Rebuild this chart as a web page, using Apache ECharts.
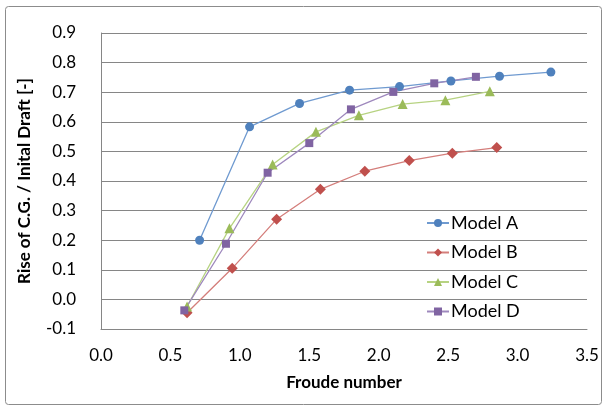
<!DOCTYPE html>
<html>
<head>
<meta charset="utf-8">
<script src="https://cdn.jsdelivr.net/npm/echarts@6/dist/echarts.min.js"></script>
<style>html,body{margin:0;padding:0;background:#fff}#c{width:606px;height:408px}</style>
</head>
<body>
<div id="c"></div>
<script>
const seriesNames = ['Model A', 'Model B', 'Model C', 'Model D'];
const modelA = [[0.71,0.20],[1.07,0.583],[1.43,0.662],[1.79,0.707],[2.15,0.719],[2.52,0.738],[2.87,0.754],[3.24,0.768]];
const modelB = [[0.62,-0.045],[0.945,0.105],[1.265,0.271],[1.58,0.372],[1.90,0.433],[2.22,0.469],[2.53,0.494],[2.85,0.513]];
const modelC = [[0.62,-0.024],[0.925,0.24],[1.236,0.456],[1.548,0.566],[1.857,0.622],[2.172,0.66],[2.48,0.673],[2.80,0.703]];
const modelD = [[0.60,-0.037],[0.90,0.188],[1.20,0.428],[1.50,0.528],[1.80,0.642],[2.105,0.701],[2.40,0.730],[2.70,0.752]];
const xTicks = [0.0, 0.5, 1.0, 1.5, 2.0, 2.5, 3.0, 3.5];
const yTicks = [-0.1, 0.0, 0.1, 0.2, 0.3, 0.4, 0.5, 0.6, 0.7, 0.8, 0.9];
const xTitle = 'Froude number';
const yTitle = 'Rise of C.G. / Inital Draft [-]';

const datasets = [modelA, modelB, modelC, modelD];
const markerColors = ['#4F81BD', '#C0504D', '#9BBB59', '#8064A2'];
const lineColors = ['#6F9AD0', '#D47E7B', '#B7D382', '#9E88BD'];
const symbols = ['circle', 'diamond', 'triangle', 'rect'];
const symbolSizes = [9, 11, 10, 8];

const font = 'Lato, "Open Sans", sans-serif';
const chart = echarts.init(document.getElementById('c'), null, {renderer: 'canvas'});
chart.setOption({
  animation: false,
  backgroundColor: '#fff',
  graphic: [{
    type: 'rect', left: 5, top: 6, z: -1,
    shape: {width: 596, height: 398, r: 3},
    style: {fill: '#fff', stroke: '#8c8c8c', lineWidth: 1}
  }],
  grid: {left: 101, right: 19, top: 33, bottom: 79, containLabel: false},
  xAxis: {
    type: 'value', min: xTicks[0], max: xTicks[xTicks.length - 1], interval: 0.5,
    name: xTitle, nameLocation: 'middle', nameGap: 45,
    nameTextStyle: {fontFamily: font, fontSize: 17, fontWeight: 'bold', color: '#000'},
    axisLine: {show: true, onZero: false, lineStyle: {color: '#868686', width: 1}},
    axisTick: {show: false},
    splitLine: {show: false},
    axisLabel: {margin: 18, fontFamily: font, fontSize: 17, color: '#000', formatter: v => v.toFixed(1)}
  },
  yAxis: {
    type: 'value', min: yTicks[0], max: yTicks[yTicks.length - 1], interval: 0.1,
    name: yTitle, nameLocation: 'middle', nameGap: 68, nameRotate: 90,
    nameTextStyle: {fontFamily: font, fontSize: 17, fontWeight: 'bold', color: '#000'},
    axisLine: {show: true, onZero: false, lineStyle: {color: '#868686', width: 1}},
    axisTick: {show: false},
    splitLine: {show: true, lineStyle: {color: '#868686', width: 1}},
    axisLabel: {margin: 25, fontFamily: font, fontSize: 17, color: '#000', formatter: v => (Math.round(v * 10) / 10).toFixed(1)}
  },
  legend: {
    orient: 'vertical', left: 421, top: 208,
    itemWidth: 22, itemHeight: 10, itemGap: 9.5,
    textStyle: {fontFamily: font, fontSize: 18, color: '#000', lineHeight: 20, padding: [0, 0, 0, -3]},
    data: seriesNames
  },
  series: seriesNames.map((n, i) => ({
    name: n, type: 'line', data: datasets[i],
    symbol: symbols[i], symbolSize: symbolSizes[i], showSymbol: true,
    lineStyle: {color: lineColors[i], width: 1.3},
    itemStyle: {color: markerColors[i], borderWidth: 0}
  }))
});
</script>
</body>
</html>
